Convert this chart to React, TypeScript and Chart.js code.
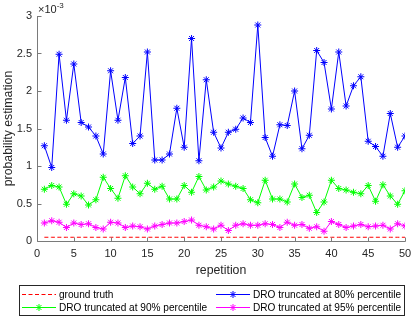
import React, { useEffect, useRef } from "react";
import { Chart, registerables } from "chart.js";

Chart.register(...registerables);

// ---- data (y values in units of 1e-3) ----
const repetitions = [
  1, 2, 3, 4, 5, 6, 7, 8, 9, 10, 11, 12, 13, 14, 15, 16, 17, 18, 19, 20, 21, 22, 23, 24, 25,
  26, 27, 28, 29, 30, 31, 32, 33, 34, 35, 36, 37, 38, 39, 40, 41, 42, 43, 44, 45, 46, 47, 48, 49, 50,
];
const dro80 = [
  1.27, 0.98, 2.49, 1.61, 2.36, 1.58, 1.52, 1.4, 1.16, 2.27, 1.61, 2.18, 1.3, 1.4, 2.52, 1.08, 1.08,
  1.16, 1.77, 1.25, 2.7, 1.07, 2.15, 1.45, 1.24, 1.45, 1.49, 1.64, 1.58, 2.88, 1.38, 1.13, 1.55, 1.54,
  2.0, 1.23, 1.41, 2.54, 2.38, 1.76, 2.52, 1.8, 2.07, 2.19, 1.33, 1.26, 1.13, 1.7, 1.25, 1.4,
];
const dro90 = [
  0.69, 0.74, 0.72, 0.49, 0.63, 0.6, 0.48, 0.55, 0.85, 0.7, 0.57, 0.87, 0.72, 0.63, 0.77, 0.69, 0.73,
  0.56, 0.56, 0.74, 0.65, 0.86, 0.68, 0.72, 0.8, 0.76, 0.73, 0.7, 0.55, 0.51, 0.81, 0.56, 0.56, 0.52,
  0.76, 0.58, 0.61, 0.38, 0.52, 0.81, 0.7, 0.68, 0.65, 0.63, 0.74, 0.53, 0.75, 0.6, 0.49, 0.67,
];
const dro95 = [
  0.24, 0.27, 0.25, 0.18, 0.24, 0.22, 0.23, 0.18, 0.16, 0.25, 0.24, 0.18, 0.2, 0.19, 0.16, 0.2, 0.22,
  0.24, 0.24, 0.26, 0.28, 0.21, 0.19, 0.16, 0.21, 0.14, 0.21, 0.23, 0.21, 0.21, 0.23, 0.22, 0.18, 0.25,
  0.21, 0.22, 0.17, 0.19, 0.13, 0.26, 0.22, 0.18, 0.2, 0.22, 0.19, 0.2, 0.21, 0.16, 0.23, 0.2,
];
const groundTruthValue = 0.05;

const xTicks = [0, 5, 10, 15, 20, 25, 30, 35, 40, 45, 50];
const yTicks = [0, 0.5, 1, 1.5, 2, 2.5, 3];
const yTickLabels = ["0", "0.5", "1", "1.5", "2", "2.5", "3"];
const xTitle = "repetition";
const yTitle = "probability estimation";
const exponentBase = "×10";
const exponentPower = "-3";

const seriesLabels = [
  "ground truth",
  "DRO truncated at 80% percentile",
  "DRO truncated at 90% percentile",
  "DRO truncated at 95% percentile",
];
const seriesColors = ["#FF0000", "#0000FF", "#00FF00", "#FF00FF"];

const FONT = "'Liberation Sans', Arial, Helvetica, sans-serif";
const TEXT = "#262626";
const AXIS = "#7a7a7a";

function drawStar(ctx: CanvasRenderingContext2D, x: number, y: number, r: number) {
  ctx.beginPath();
  ctx.moveTo(x - r, y);
  ctx.lineTo(x + r, y);
  ctx.moveTo(x, y - r);
  ctx.lineTo(x, y + r);
  const d = r * Math.SQRT1_2;
  ctx.moveTo(x - d, y - d);
  ctx.lineTo(x + d, y + d);
  ctx.moveTo(x - d, y + d);
  ctx.lineTo(x + d, y - d);
  ctx.stroke();
}

const decorPlugin = {
  id: "decor",
  afterDraw(chart: any) {
    const ctx: CanvasRenderingContext2D = chart.ctx;
    const { left, right, top, bottom } = chart.chartArea;
    const xs = chart.scales.x;
    const ys = chart.scales.y;
    ctx.save();

    // axes lines
    const L = Math.round(left) + 0.5;
    const B = Math.round(bottom) + 0.5;
    ctx.strokeStyle = AXIS;
    ctx.lineWidth = 1;
    ctx.setLineDash([]);
    ctx.beginPath();
    ctx.moveTo(L, Math.round(top));
    ctx.lineTo(L, B);
    ctx.lineTo(Math.round(right) + 0.5, B);
    ctx.stroke();

    // inward ticks
    ctx.beginPath();
    yTicks.forEach((v) => {
      const p = Math.round(ys.getPixelForValue(v)) + 0.5;
      ctx.moveTo(L, p);
      ctx.lineTo(L + 4, p);
    });
    xTicks.forEach((v) => {
      const p = Math.round(xs.getPixelForValue(v)) + 0.5;
      ctx.moveTo(p, B);
      ctx.lineTo(p, B - 4);
    });
    ctx.stroke();

    // exponent label
    ctx.fillStyle = TEXT;
    ctx.textAlign = "left";
    ctx.textBaseline = "alphabetic";
    ctx.font = `11px ${FONT}`;
    const bx = left + 1;
    ctx.fillText(exponentBase, bx, 12.5);
    const w = ctx.measureText(exponentBase).width;
    ctx.font = `8px ${FONT}`;
    ctx.fillText(exponentPower, bx + w, 7.5);

    // axis titles
    ctx.font = `12.3px ${FONT}`;
    ctx.textAlign = "center";
    ctx.textBaseline = "middle";
    ctx.fillText(xTitle, (left + right) / 2, 271);
    ctx.save();
    ctx.translate(8.5, (top + bottom) / 2);
    ctx.rotate(-Math.PI / 2);
    ctx.fillText(yTitle, 0, 0);
    ctx.restore();

    // legend
    const boxX = 19.5, boxY = 285.5, boxW = 385, boxH = 30;
    ctx.fillStyle = "#ffffff";
    ctx.fillRect(boxX, boxY, boxW, boxH);
    ctx.strokeStyle = TEXT;
    ctx.lineWidth = 1;
    ctx.strokeRect(boxX, boxY, boxW, boxH);

    const cols = [22, 216];
    const rows = [294.5, 307.5];
    const sampleLen = 34;
    ctx.font = `10.1px ${FONT}`;
    ctx.textAlign = "left";
    ctx.textBaseline = "middle";
    for (let i = 0; i < 4; i++) {
      const cx = cols[i % 2];
      const cy = rows[Math.floor(i / 2)];
      ctx.strokeStyle = seriesColors[i];
      ctx.lineWidth = 1;
      if (i === 0) ctx.setLineDash([4, 2.5]);
      else ctx.setLineDash([]);
      ctx.beginPath();
      ctx.moveTo(cx, cy);
      ctx.lineTo(cx + sampleLen, cy);
      ctx.stroke();
      ctx.setLineDash([]);
      if (i > 0) drawStar(ctx, cx + sampleLen / 2, cy, 3.5);
      ctx.fillStyle = "#000000";
      ctx.fillText(seriesLabels[i], cx + sampleLen + 3, cy + 0.5);
    }

    ctx.restore();
  },
};

export default function App() {
  const ref = useRef<HTMLCanvasElement | null>(null);

  useEffect(() => {
    if (!ref.current) return;
    const mk = (vals: number[]) => repetitions.map((r, i) => ({ x: r, y: vals[i] }));
    const lineDs = (i: number, vals: number[]) => ({
      label: seriesLabels[i],
      data: mk(vals),
      borderColor: seriesColors[i],
      backgroundColor: seriesColors[i],
      borderWidth: 1,
      pointStyle: "star" as const,
      pointRadius: 3.5,
      pointBorderWidth: 1,
      pointBorderColor: seriesColors[i],
      tension: 0,
      fill: false,
    });

    const chart = new Chart(ref.current, {
      type: "line",
      data: {
        datasets: [
          {
            label: seriesLabels[0],
            data: repetitions.map((r) => ({ x: r, y: groundTruthValue })),
            borderColor: seriesColors[0],
            borderWidth: 1,
            borderDash: [4, 2.5],
            pointRadius: 0,
            fill: false,
          },
          lineDs(1, dro80),
          lineDs(2, dro90),
          lineDs(3, dro95),
        ],
      },
      plugins: [decorPlugin],
      options: {
        animation: false,
        responsive: false,
        devicePixelRatio: 1,
        events: [],
        layout: { padding: { top: 16, right: 6, left: 0, bottom: 0 } },
        plugins: {
          legend: { display: false },
          tooltip: { enabled: false },
          title: { display: false },
        },
        scales: {
          x: {
            type: "linear",
            min: 0,
            max: 50,
            grid: { display: false, drawTicks: false },
            border: { display: false },
            afterFit: (s: any) => {
              s.height = 76;
              s.paddingLeft = 0;
              s.paddingRight = 0;
            },
            afterBuildTicks: (s: any) => {
              s.ticks = xTicks.map((v) => ({ value: v }));
            },
            ticks: {
              padding: 6,
              maxRotation: 0,
              autoSkip: false,
              color: TEXT,
              font: { family: FONT, size: 11 },
              callback: (v: any) => String(v),
            },
          },
          y: {
            type: "linear",
            min: 0,
            max: 3,
            grid: { display: false, drawTicks: false },
            border: { display: false },
            afterFit: (s: any) => {
              s.width = 37;
              s.paddingTop = 0;
              s.paddingBottom = 0;
            },
            afterBuildTicks: (s: any) => {
              s.ticks = yTicks.map((v) => ({ value: v }));
            },
            ticks: {
              padding: 5,
              autoSkip: false,
              color: TEXT,
              font: { family: FONT, size: 11 },
              callback: (v: any) => {
                const idx = yTicks.indexOf(Number(v));
                return idx >= 0 ? yTickLabels[idx] : "";
              },
            },
          },
        },
      } as any,
    });
    return () => chart.destroy();
  }, []);

  return (
    <div style={{ position: "absolute", left: 0, top: 0, width: 411, height: 317, background: "#fff" }}>
      <canvas ref={ref} width={411} height={317} style={{ display: "block" }} />
    </div>
  );
}
